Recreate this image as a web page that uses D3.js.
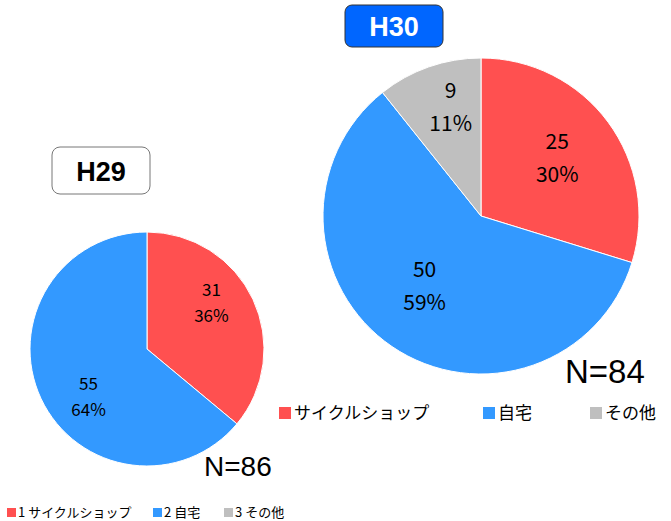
<!DOCTYPE html>
<html>
<head>
<meta charset="utf-8">
<script src="https://cdn.jsdelivr.net/npm/d3@7"></script>
<style>
  body { margin: 0; background: #fff; }
  text { font-family: "Noto Sans CJK JP", "Noto Sans", sans-serif; }
</style>
</head>
<body>
<div class="chart"></div>
<script>
const categories = ["サイクルショップ", "自宅", "その他"];
const colors = ["#FF5050", "#3399FF", "#BFBFBF"];
const h29Values = [31, 55, 0];
const h29Pct = ["36%", "64%", ""];
const h30Values = [25, 50, 9];
const h30Pct = ["30%", "59%", "11%"];

const width = 671, height = 521;
const svg = d3.select(".chart").append("svg")
    .attr("width", width).attr("height", height);

const pie = d3.pie().sort(null).value(d => d);

// nudge: per-slice label shift [dx, dy] away from the centroid
function drawPie(values, pct, cx, cy, r, fontSize, labelR, nudge) {
    const g = svg.append("g").attr("transform", `translate(${cx},${cy})`);
    const arcs = pie(values);
    const arc = d3.arc().innerRadius(0).outerRadius(r);
    g.selectAll("path")
        .data(arcs.filter(d => d.value > 0))
        .join("path")
        .attr("d", arc)
        .attr("fill", d => colors[d.index])
        .attr("stroke", "#fff")
        .attr("stroke-width", 1);
    const lab = d3.arc().innerRadius(r * labelR).outerRadius(r * labelR);
    const t = g.selectAll("g.lbl")
        .data(arcs.filter(d => d.value > 0))
        .join("g")
        .attr("class", "lbl")
        .attr("transform", d => {
            const c = lab.centroid(d);
            return `translate(${c[0] + nudge[d.index][0]},${c[1] + nudge[d.index][1]})`;
        });
    t.append("text")
        .attr("text-anchor", "middle")
        .attr("y", -fontSize * 0.25)
        .attr("font-size", fontSize)
        .text(d => d.value);
    t.append("text")
        .attr("text-anchor", "middle")
        .attr("y", fontSize * 1.3)
        .attr("font-size", fontSize)
        .text(d => pct[d.index]);
}

drawPie(h29Values, h29Pct, 147, 349, 117, 17, 0.58, [[3, -20], [3, 16], [0, 0]]);
drawPie(h30Values, h30Pct, 481, 216, 158, 21, 0.6, [[0, -5], [-3, -12], [1, -23]]);

// title boxes
svg.append("rect").attr("x", 345).attr("y", 5).attr("width", 98).attr("height", 42)
    .attr("rx", 7).attr("fill", "#0066FF").attr("stroke", "#333").attr("stroke-width", 1);
svg.append("text").attr("x", 394).attr("y", 36).attr("text-anchor", "middle")
    .attr("font-size", 27).attr("font-weight", "bold").attr("fill", "#fff")
    .style("font-family", "Liberation Sans, Arial, sans-serif").text("H30");

svg.append("rect").attr("x", 52).attr("y", 147).attr("width", 98).attr("height", 47)
    .attr("rx", 8).attr("fill", "#fff").attr("stroke", "#777").attr("stroke-width", 1);
svg.append("text").attr("x", 101).attr("y", 181).attr("text-anchor", "middle")
    .attr("font-size", 27).attr("font-weight", "bold").attr("fill", "#000")
    .style("font-family", "Liberation Sans, Arial, sans-serif").text("H29");

// N labels
svg.append("text").attr("x", 565).attr("y", 383).attr("font-size", 33)
    .style("font-family", "Liberation Sans, Arial, sans-serif").text("N=84");
svg.append("text").attr("x", 204).attr("y", 476).attr("font-size", 28)
    .style("font-family", "Liberation Sans, Arial, sans-serif").text("N=86");

// H30 legend
const leg30x = [279, 483, 590];
const leg30 = svg.append("g").selectAll("g").data(categories).join("g")
    .attr("transform", (d, i) => `translate(${leg30x[i]},407)`);
leg30.append("rect").attr("width", 12).attr("height", 12).attr("fill", (d, i) => colors[i]);
leg30.append("text").attr("x", 15).attr("y", 12).attr("font-size", 17).text(d => d);

// bottom legend
const legBx = [7, 153, 224];
const legB = svg.append("g").selectAll("g").data(categories).join("g")
    .attr("transform", (d, i) => `translate(${legBx[i]},508)`);
legB.append("rect").attr("width", 9).attr("height", 9).attr("fill", (d, i) => colors[i]);
legB.append("text").attr("x", 11).attr("y", 9).attr("font-size", 13)
    .text((d, i) => (i + 1) + " " + d);
</script>
</body>
</html>
